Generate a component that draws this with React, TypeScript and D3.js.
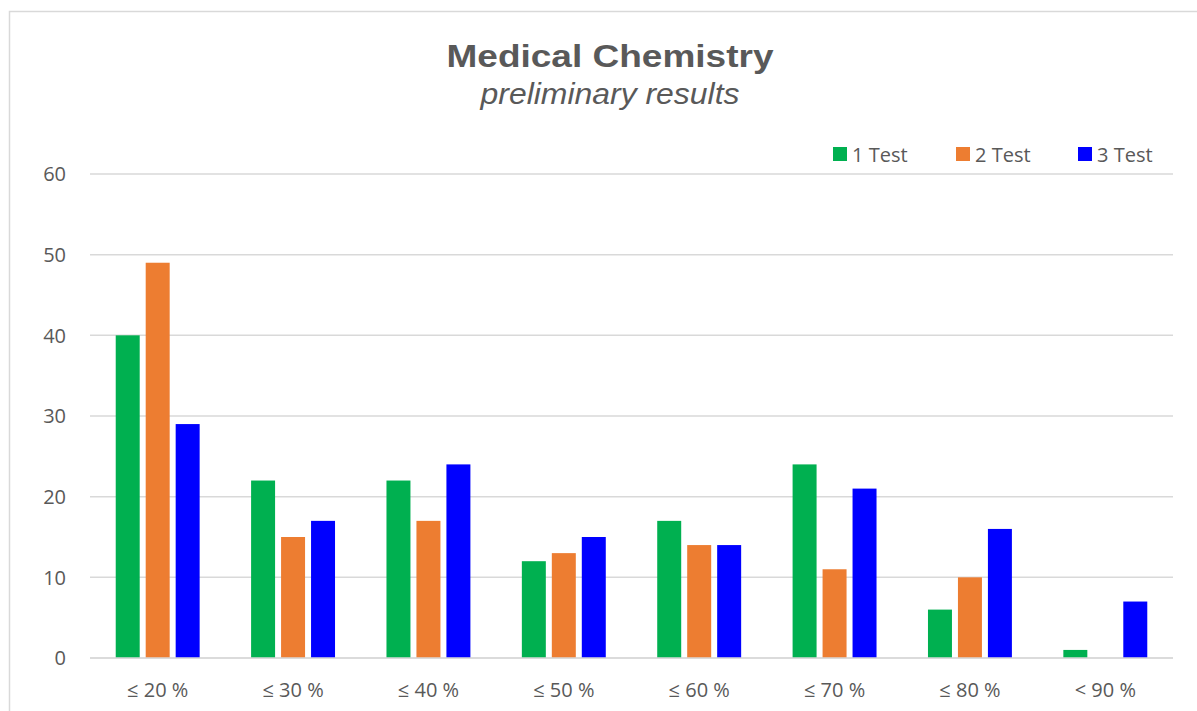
import React from "react";
import * as d3 from "d3";

const categories = ["≤ 20 %", "≤ 30 %", "≤ 40 %", "≤ 50 %", "≤ 60 %", "≤ 70 %", "≤ 80 %", "< 90 %"];
const seriesNames = ["1 Test", "2 Test", "3 Test"];
const test1 = [40, 22, 22, 12, 17, 24, 6, 1];
const test2 = [49, 15, 17, 13, 14, 11, 10, 0];
const test3 = [29, 17, 24, 15, 14, 21, 16, 7];
const yTicks = [0, 10, 20, 30, 40, 50, 60];
const colors = ["#00b050", "#ed7d31", "#0000ff"];

const W = 1197;
const H = 711;
const left = 90, right = 1173, top = 174, bottom = 658;
const textColor = "#595959";
const font = "'Open Sans', sans-serif";

export default function App() {
  const series = [test1, test2, test3];

  const x0 = d3.scaleBand<string>()
    .domain(categories)
    .range([left, right])
    .paddingInner(0.38)
    .paddingOuter(0.19);

  const x1 = d3.scaleBand<string>()
    .domain(seriesNames)
    .range([0, x0.bandwidth()])
    .paddingInner(0.2);

  const y = d3.scaleLinear().domain([0, 60]).range([bottom, top]);

  const legendX = [833, 956, 1078];

  return (
    <svg width={W} height={H} style={{ position: "absolute", left: 0, top: 0 }}>
      <rect x={0} y={0} width={W} height={H} fill="#fff" />
      <rect x={9.5} y={11.5} width={1200} height={720} fill="none" stroke="#d9d9d9" strokeWidth={1.5} />

      <text x={610} y={67} textAnchor="middle" fill={textColor}
        fontFamily="'Liberation Sans', Arial, sans-serif" fontWeight="bold" fontSize={32}
        textLength={327} lengthAdjust="spacingAndGlyphs">
        Medical Chemistry
      </text>
      <text x={610} y={104} textAnchor="middle" fill={textColor}
        fontFamily="'Liberation Sans', Arial, sans-serif" fontStyle="italic" fontSize={29}
        textLength={259} lengthAdjust="spacingAndGlyphs">
        preliminary results
      </text>

      {/* gridlines + y labels */}
      {yTicks.map(t => (
        <g key={t}>
          <line x1={left} x2={right} y1={y(t)} y2={y(t)} stroke="#d9d9d9" strokeWidth={1.5} />
          <text x={66} y={y(t)} dy="0.36em" textAnchor="end" fill={textColor}
            fontFamily={font} fontSize={20}>{t}</text>
        </g>
      ))}

      {/* bars */}
      {categories.map((c, i) => (
        <g key={c} transform={`translate(${x0(c)},0)`}>
          {series.map((s, j) => s[i] > 0 ? (
            <rect key={j}
              x={x1(seriesNames[j])}
              y={y(s[i])}
              width={x1.bandwidth()}
              height={y(0) - y(s[i])}
              fill={colors[j]} />
          ) : null)}
          <text x={x0.bandwidth() / 2} y={697} textAnchor="middle" fill={textColor}
            fontFamily={font} fontSize={20}>{c}</text>
        </g>
      ))}

      {/* axis line */}
      <line x1={left} x2={right} y1={y(0)} y2={y(0)} stroke="#d9d9d9" strokeWidth={1.5} />

      {/* legend */}
      {seriesNames.map((n, j) => (
        <g key={n} transform={`translate(${legendX[j]},147)`}>
          <rect x={0} y={0} width={14} height={14} fill={colors[j]} />
          <text x={19} y={14.5} fill={textColor} fontFamily={font} fontSize={20}>{n}</text>
        </g>
      ))}
    </svg>
  );
}
